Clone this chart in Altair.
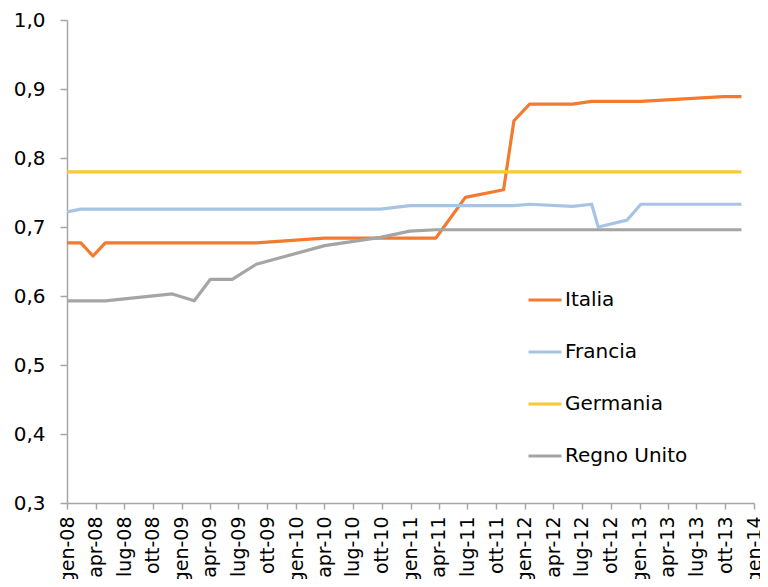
import altair as alt
import pandas as pd

dates = [
    "2008-01-01", "2008-02-14", "2008-03-24", "2008-05-02", "2008-12-02",
    "2009-02-10", "2009-04-02", "2009-06-11", "2009-08-27", "2010-04-02",
    "2010-09-27", "2010-12-30", "2011-03-23", "2011-06-25", "2011-10-25",
    "2011-11-27", "2012-01-16", "2012-06-01", "2012-08-01", "2012-08-22",
    "2012-11-22", "2013-01-05", "2013-09-25", "2013-11-22",
]
italia = [0.677, 0.677, 0.658, 0.677, 0.677, 0.677, 0.677, 0.677, 0.677, 0.684,
          0.684, 0.684, 0.684, 0.743, 0.754, 0.854, 0.878, 0.878, 0.882, 0.882,
          0.882, 0.882, 0.889, 0.889]
francia = [0.722, 0.726, 0.726, 0.726, 0.726, 0.726, 0.726, 0.726, 0.726, 0.726,
           0.726, 0.731, 0.731, 0.731, 0.731, 0.731, 0.733, 0.730, 0.733, 0.700,
           0.710, 0.733, 0.733, 0.733]
germania = [0.78] * 24
regno_unito = [0.593, 0.593, 0.593, 0.593, 0.603, 0.593, 0.624, 0.624, 0.646, 0.673,
               0.685, 0.694, 0.696, 0.696, 0.696, 0.696, 0.696, 0.696, 0.696, 0.696,
               0.696, 0.696, 0.696, 0.696]

series_names = ["Italia", "Francia", "Germania", "Regno Unito"]
series_colors = ["#F47A2F", "#A8C4E4", "#F9C832", "#A5A5A5"]
y_ticks = [0.3, 0.4, 0.5, 0.6, 0.7, 0.8, 0.9, 1.0]

rows = []
for name, vals in zip(series_names, [italia, francia, germania, regno_unito]):
    for d, v in zip(dates, vals):
        rows.append({"data": d, "valore": v, "paese": name})
df = pd.DataFrame(rows)

x_ticks = [alt.DateTime(year=y, month=m, date=1, utc=True)
           for y in range(2008, 2015) for m in (1, 4, 7, 10) if not (y == 2014 and m > 1)]

FONT = "DejaVu Sans"
GRAY = "#A6A6A6"

chart = alt.Chart(df).mark_line(strokeWidth=3.2, strokeJoin="round").encode(
    x=alt.X(
        "data:T",
        scale=alt.Scale(
            type="utc",
            domain=[alt.DateTime(year=2008, month=1, date=1, utc=True),
                    alt.DateTime(year=2014, month=1, date=1, utc=True)],
            nice=False,
        ),
        axis=alt.Axis(
            values=x_ticks,
            labelExpr="['gen','feb','mar','apr','mag','giu','lug','ago','set','ott','nov','dic'][utcmonth(datum.value)] + '-' + utcFormat(datum.value, '%y')",
            labelAngle=270,
            labelFontSize=19,
            labelFont=FONT,
            labelColor="#000000",
            labelPadding=7,
            labelOverlap=False,
            labelFlush=False,
            tickColor=GRAY,
            tickSize=6,
            tickWidth=1.5,
            domainColor=GRAY,
            domainWidth=1.5,
            grid=False,
            title=None,
        ),
    ),
    y=alt.Y(
        "valore:Q",
        scale=alt.Scale(domain=[0.3, 1.0], nice=False, zero=False),
        axis=alt.Axis(
            values=y_ticks,
            labelExpr="replace(format(datum.value, '.1f'), '.', ',')",
            labelFontSize=20,
            labelFont=FONT,
            labelColor="#000000",
            labelPadding=15,
            tickColor=GRAY,
            tickSize=7,
            tickWidth=1.5,
            domainColor=GRAY,
            domainWidth=1.5,
            grid=False,
            title=None,
        ),
    ),
    color=alt.Color(
        "paese:N",
        scale=alt.Scale(domain=series_names, range=series_colors),
        sort=series_names,
        legend=alt.Legend(
            title=None,
            orient="none",
            legendX=460,
            legendY=262,
            symbolType="stroke",
            symbolSize=1089,
            symbolStrokeWidth=3,
            labelFontSize=20,
            labelFont=FONT,
            labelColor="#000000",
            labelOffset=2,
            rowPadding=24,
        ),
    ),
).properties(
    width=687,
    height=483,
    padding={"left": 59, "top": 12, "right": 6, "bottom": 76},
    autosize="none",
).configure_view(stroke=None)

chart.save("out.html", embed_options={"renderer": "svg", "actions": False})
